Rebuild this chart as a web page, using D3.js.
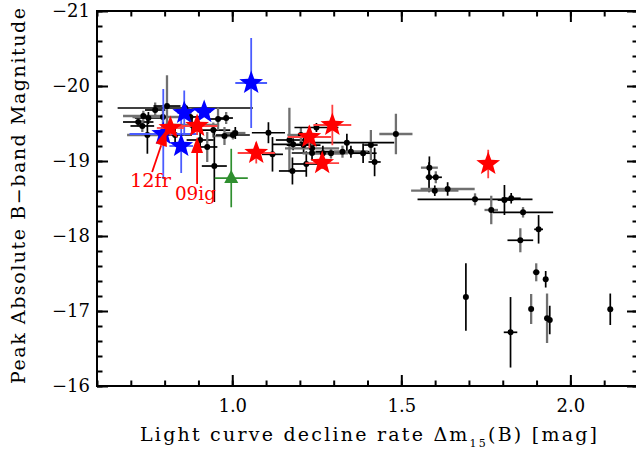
<!DOCTYPE html>
<html><head><meta charset="utf-8">
<script src="https://cdn.jsdelivr.net/npm/d3@7"></script>
<style>body{margin:0;background:#fff}svg{display:block}text{font-family:"DejaVu Serif",serif;fill:#000}</style>
</head><body><svg id="c" width="636" height="453"></svg>
<script>
// ---- data ----
const dm15 = [0.722,0.734,0.737,0.749,0.752,0.772,0.807,0.795,0.831,0.861,0.876,0.881,0.905,0.926,0.944,0.947,0.958,0.977,0.982,1.002,1.009,
  1.107,1.119,1.169,1.180,1.178,1.203,1.211,1.219,1.236,1.236,1.249,1.268,1.292,1.326,1.339,1.351,1.387,1.410,1.421,1.484,
  1.583,1.582,1.602,1.599,1.637,1.718,1.766,1.805,1.825,1.860,1.906,1.852,1.899,1.927,1.691,1.884,1.931,1.939,2.118,1.823];
const mag = [-19.52,-19.467,-19.60,-19.347,-19.573,-19.68,-19.733,-19.587,-19.347,-19.707,-19.587,-19.48,-19.28,-19.187,-19.413,-18.933,-19.56,-19.333,-19.573,-19.347,-19.373,
  -19.377,-19.089,-19.28,-19.223,-18.867,-19.347,-19.213,-18.96,-19.107,-19.169,-19.447,-19.103,-19.103,-19.124,-19.244,-19.124,-19.104,-19.213,-18.987,-19.36,
  -18.911,-18.783,-18.783,-18.604,-18.627,-18.489,-18.347,-18.48,-18.503,-18.316,-18.089,-17.943,-17.516,-17.423,-17.187,-17.027,-16.903,-16.88,-17.023,-16.716];
const dm15Err = [0.045,0.035,0.06,0.06,0.04,0.03,0.04,0.09,0.05,0.20,0.03,0.08,0.04,0.03,0.05,0.037,0.03,0.03,0.02,0.05,0.03,
  0.049,0.031,0.04,0.06,0.04,0.04,0.05,0.04,0.06,0.08,0.065,0.06,0.05,0.08,0.14,0.05,0.04,0.02,0.018,0.049,
  0.025,0.01,0.018,0.07,0.08,0.17,0.02,0.02,0.028,0.089,0.013,0.038,0.01,0,0,0,0,0,0,0.02];
const magErr = [0.06,0.08,0.07,0.25,0.08,0.10,0.41,0.15,0.12,0.05,0.12,0.10,0.12,0.20,0.10,0.48,0.15,0.12,0.08,0.06,0.08,
  0.14,0.23,0.43,0.08,0.18,0.10,0.10,0.17,0.10,0.06,0.06,0.10,0.07,0.08,0.12,0.08,0.13,0.20,0.19,0.27,
  0.15,0.20,0.08,0.07,0.09,0.08,0.19,0.20,0.07,0.07,0.19,0.16,0.12,0.11,0.45,0.20,0.33,0.19,0.21,0.47];
const xErrGray = [0,0,1,1,0,0,0,1,0,0,0,1,0,0,0,0,0,1,0,0,1, 0,0,0,0,0,1,0,0,0,1,0,1,1,0,0,1,0,0,0,1, 1,0,0,1,1,0,1,0,0,0,0,0,1,0,0,1,1,0,0,0];
const yErrGray = [1,1,1,0,0,1,1,1,0,0,1,0,0,1,1,0,1,1,1,1,0, 0,0,1,0,0,1,0,0,0,1,0,0,1,1,0,0,0,1,0,1, 0,0,1,0,0,1,1,0,0,1,0,1,1,0,0,1,1,0,0,0];

const blueDm15 = [1.056,0.858,0.917,0.796,0.849];
const blueMag = [-20.04,-19.64,-19.653,-19.36,-19.20];
const blueDm15Err = [0.047,0.02,0.02,0.10,0.035];
const blueMagErr = [0.60,0.30,0.06,0.60,0.36];

const redDm15 = [0.817,0.896,1.071,1.228,1.296,1.266,1.757];
const redMag = [-19.44,-19.467,-19.107,-19.32,-19.48,-18.973,-18.96];
const redDm15Err = [0.04,0.06,0.055,0.064,0.056,0.05,0];
const redMagErr = [0.10,0.12,0.14,0.15,0.27,0.08,0.19];

const greenDm15 = [0.997];
const greenMag = [-18.773];
const greenDm15Err = [0.049];
const greenMagErr = [0.39];

const annNames = ["12fr","09ig"];
const annTextX = [0.758,0.891];
const annTextY = [-18.747,-18.573];
const arrowFromX = [0.763,0.896], arrowFromY = [-18.853,-18.693];
const arrowToX = [0.805,0.896], arrowToY = [-19.413,-19.32];

const xMajor = [1.0,1.5,2.0];
const xMinor = d3.range(6,23).map(d=>d/10);
const yMajor = [-21,-20,-19,-18,-17,-16];
const yMinor = d3.range(-105,-79).map(d=>d/5);

// ---- drawing ----
const svg = d3.select("#c");
const x = d3.scaleLinear().domain([0.6,2.2]).range([97,638]);
const y = d3.scaleLinear().domain([-21,-16]).range([11,386]);
const X0=97,X1=638,Y0=11,Y1=386;

const g = svg.append("g");
function bars(xs,ys,xe,ye,colX,colY,w){
  xs.forEach((d,i)=>{
    if(xe[i]>0) g.append("line").attr("x1",x(d-xe[i])).attr("x2",x(d+xe[i])).attr("y1",y(ys[i])).attr("y2",y(ys[i]))
      .attr("stroke",colX(i)).attr("stroke-width",w(i,'x'));
    if(ye[i]>0) g.append("line").attr("x1",x(d)).attr("x2",x(d)).attr("y1",y(ys[i]-ye[i])).attr("y2",y(ys[i]+ye[i]))
      .attr("stroke",colY(i)).attr("stroke-width",w(i,'y'));
  });
}
bars(dm15,mag,dm15Err,magErr,i=>xErrGray[i]?"#707070":"#000",i=>yErrGray[i]?"#707070":"#000",(i,a)=>((a==='x'?xErrGray[i]:yErrGray[i])?2.3:1.7));
g.selectAll("circle.pt").data(dm15).enter().append("circle").attr("cx",d=>x(d)).attr("cy",(d,i)=>y(mag[i])).attr("r",3).attr("fill","#000");

function starPath(R,r){
  const pts=[];
  for(let k=0;k<10;k++){const a=-Math.PI/2+k*Math.PI/5;const rr=k%2?r:R;pts.push([rr*Math.cos(a),rr*Math.sin(a)]);}
  return "M"+pts.map(p=>p[0].toFixed(2)+","+p[1].toFixed(2)).join("L")+"Z";
}
// green triangle
bars(greenDm15,greenMag,greenDm15Err,greenMagErr,()=>"#2f8f2f",()=>"#2f8f2f",()=>1.7);
g.selectAll("path.gt").data(greenDm15).enter().append("path").attr("d","M0,-8L7,5L-7,5Z")
  .attr("transform",(d,i)=>`translate(${x(d)},${y(greenMag[i])})`).attr("fill","#2f8f2f");
// blue stars
bars(blueDm15,blueMag,blueDm15Err,blueMagErr,()=>"#4a5cff",()=>"#4a5cff",()=>1.8);
g.selectAll("path.bs").data(blueDm15).enter().append("path").attr("d",starPath(12.5,5.2))
  .attr("transform",(d,i)=>`translate(${x(d)},${y(blueMag[i])})`).attr("fill","#0000ff");
// red stars
bars(redDm15,redMag,redDm15Err,redMagErr,()=>"#ff4040",()=>"#ff4040",()=>1.8);
g.selectAll("path.rs").data(redDm15).enter().append("path").attr("d",starPath(12.5,5.2))
  .attr("transform",(d,i)=>`translate(${x(d)},${y(redMag[i])})`).attr("fill","#ff0000");

// annotations
annNames.forEach((n,i)=>{
  const x1=x(arrowFromX[i]),y1=y(arrowFromY[i]),x2=x(arrowToX[i]),y2=y(arrowToY[i]);
  const a=Math.atan2(y2-y1,x2-x1),L=16,Wd=6;
  const bx=x2-L*Math.cos(a),by=y2-L*Math.sin(a);
  g.append("line").attr("x1",x1).attr("y1",y1).attr("x2",bx).attr("y2",by).attr("stroke","#ff0000").attr("stroke-width",1.8);
  g.append("path").attr("d",`M${x2},${y2}L${bx+Wd*Math.sin(a)},${by-Wd*Math.cos(a)}L${bx-Wd*Math.sin(a)},${by+Wd*Math.cos(a)}Z`).attr("fill","#ff0000");
  svg.append("text").attr("x",x(annTextX[i])).attr("y",y(annTextY[i])).attr("dy","0.35em").attr("text-anchor","middle")
    .attr("font-size",19).attr("textLength",41).attr("lengthAdjust","spacingAndGlyphs").style("fill","#ff0000").text(n);
});

// axes (ticks inward, IDL style box)
function ax(gen,tr,vals,size,labels){
  const a=svg.append("g").attr("transform",tr).call(gen.tickValues(vals).tickSize(size).tickPadding(labels?8:0).tickFormat(labels||(()=>"")));
  a.select(".domain").remove();
  a.selectAll(".tick line").attr("stroke","#000").attr("stroke-width",2);
  a.selectAll("text").attr("font-size",18).attr("font-family","DejaVu Serif");
  return a;
}
ax(d3.axisBottom(x),`translate(0,${Y1})`,xMinor,-5.5,null);
const xb=ax(d3.axisBottom(x),`translate(0,${Y1})`,xMajor,-11,d3.format(".1f"));
xb.selectAll("text").attr("y",13);
ax(d3.axisTop(x),`translate(0,${Y0})`,xMinor,-5.5,null);
ax(d3.axisTop(x),`translate(0,${Y0})`,xMajor,-11,null);
ax(d3.axisLeft(y),`translate(${X0},0)`,yMinor,-5.5,null);
const yl=ax(d3.axisLeft(y),`translate(${X0},0)`,yMajor,-11,d3.format("d"));
yl.selectAll("text").attr("x",-7);
ax(d3.axisRight(y),`translate(${X1},0)`,yMinor,-5.5,null);
ax(d3.axisRight(y),`translate(${X1},0)`,yMajor,-11,null);
svg.append("rect").attr("x",X0).attr("y",Y0).attr("width",X1-X0).attr("height",Y1-Y0).attr("fill","none").attr("stroke","#000").attr("stroke-width",2);

// titles
const xt=svg.append("text").attr("x",140).attr("y",441).attr("font-size",19)
  .attr("textLength",457).attr("lengthAdjust","spacing");
xt.append("tspan").text("Light curve decline rate Δm");
xt.append("tspan").attr("font-size",11).attr("dy",6).text("15");
xt.append("tspan").attr("dy",-6).text("(B) [mag]");
svg.append("text").attr("transform","translate(25,196) rotate(-90)").attr("text-anchor","middle").attr("font-size",19)
  .attr("textLength",376).attr("lengthAdjust","spacing").text("Peak Absolute B−band Magnitude");
</script></body></html>
